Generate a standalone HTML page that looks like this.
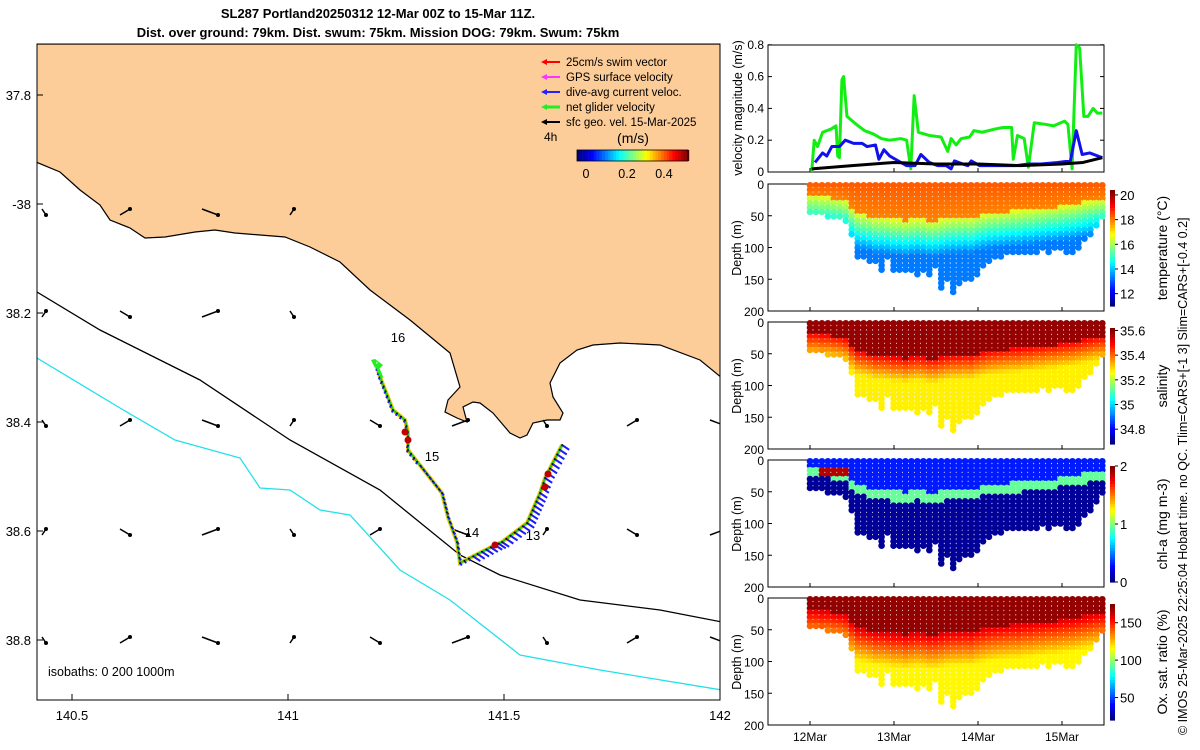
<!DOCTYPE html>
<html><head><meta charset="utf-8"><style>
body{margin:0;background:#fff;}
svg{display:block;font-family:"Liberation Sans",sans-serif;}
</style></head><body>
<svg id="fig" width="1200" height="750" viewBox="0 0 1200 750">
<text x="378" y="18" font-size="13" font-weight="bold" text-anchor="middle">SL287 Portland20250312 12-Mar 00Z to 15-Mar 11Z.</text>
<text x="378" y="37" font-size="13" font-weight="bold" text-anchor="middle">Dist. over ground: 79km. Dist. swum: 75km. Mission DOG: 79km. Swum: 75km</text>
<g id="map"></g>
<g id="vel"></g>
<g id="sections"></g>
<text transform="translate(1187,735) rotate(-90)" font-size="12.5">© IMOS 25-Mar-2025 22:25:04 Hobart time. no QC. Tlim=CARS+[-1 3] Slim=CARS+[-0.4 0.2]</text>
</svg>
<script>
// ---------- data ----------
const greenT=[0.02,0.05,0.09,0.15,0.25,0.31,0.33,0.35,0.38,0.40,0.44,0.55,0.65,0.75,0.85,0.95,1.08,1.15,1.20,1.24,1.29,1.42,1.56,1.64,1.68,1.74,1.80,1.90,1.95,2.05,2.20,2.30,2.40,2.42,2.47,2.55,2.60,2.67,2.80,2.90,3.03,3.07,3.12,3.17,3.21,3.26,3.31,3.37,3.42,3.48];
const greenV=[0.0,0.20,0.16,0.25,0.27,0.29,0.10,0.09,0.58,0.60,0.35,0.30,0.26,0.24,0.21,0.20,0.21,0.20,0.02,0.48,0.25,0.23,0.22,0.13,0.21,0.17,0.21,0.22,0.26,0.25,0.27,0.28,0.28,0.08,0.23,0.21,0.03,0.31,0.30,0.29,0.32,0.30,0.02,0.80,0.78,0.35,0.35,0.40,0.37,0.37];
const blueT=[0.06,0.15,0.20,0.26,0.35,0.42,0.52,0.62,0.68,0.78,0.82,0.88,0.95,1.05,1.15,1.25,1.32,1.42,1.52,1.62,1.68,1.72,1.82,1.88,1.92,2.02,2.18,2.30,2.45,2.60,2.75,2.95,3.10,3.17,3.24,3.33,3.43,3.48];
const blueV=[0.06,0.12,0.10,0.16,0.16,0.20,0.18,0.18,0.16,0.17,0.08,0.14,0.10,0.07,0.04,0.04,0.11,0.06,0.04,0.04,0.02,0.07,0.05,0.04,0.07,0.04,0.04,0.04,0.04,0.05,0.05,0.06,0.07,0.26,0.11,0.12,0.10,0.09];
const blackT=[0.02,0.5,1.0,1.5,2.0,2.5,3.0,3.25,3.48];
const blackV=[0.02,0.04,0.06,0.05,0.05,0.04,0.05,0.06,0.09];
const velTicks=[0,0.2,0.4,0.6,0.8];
const dayLabels=["12Mar","13Mar","14Mar","15Mar"];
const depthTicks=[0,50,100,150,200];
const profileMaxDepth=[45,48,50,52,55,56,60,85,115,120,122,125,135,120,140,135,140,140,145,140,145,130,165,150,172,160,155,150,145,130,125,120,115,112,110,110,108,110,110,105,108,100,105,110,112,100,90,80,65,55];
const profileMLD=[20,20,22,22,24,25,28,40,48,50,52,55,55,56,58,58,60,58,57,58,60,60,58,56,55,55,54,55,52,50,48,47,46,45,44,44,42,42,40,40,38,38,36,35,34,32,30,28,26,25];
const tempTicks=[12,14,16,18,20], salTicks=[34.8,35,35.2,35.4,35.6], chlTicks=[0,1,2], oxyTicks=[50,100,150];
const mapXTicks=[140.5,141,141.5,142], mapYTicks=[-37.8,-38,-38.2,-38.4,-38.6,-38.8];
const trackDays=["16","15","14","13"];

const NS="http://www.w3.org/2000/svg";
function mk(p,tag,attrs){const e=document.createElementNS(NS,tag);for(const k in attrs)e.setAttribute(k,attrs[k]);p.appendChild(e);return e;}
function txt(p,x,y,s,size,anchor){const e=mk(p,"text",{x:x,y:y,"font-size":size||12,"text-anchor":anchor||"middle"});e.textContent=s;return e;}
function jet(v){v=Math.max(0,Math.min(1,v));const r=Math.min(1,Math.max(0,1.5-Math.abs(4*v-3))),g=Math.min(1,Math.max(0,1.5-Math.abs(4*v-2))),b=Math.min(1,Math.max(0,1.5-Math.abs(4*v-1)));return `rgb(${Math.round(r*255)},${Math.round(g*255)},${Math.round(b*255)})`;}

// ---------- map ----------
const map=document.getElementById("map");
const mx=lon=>72+(lon-140.5)*432, my=lat=>204+(-38-lat)*545;
mk(map,"rect",{x:37,y:44,width:683,height:656,fill:"#fff"});
const clip=mk(map,"clipPath",{id:"mclip"});mk(clip,"rect",{x:37,y:44,width:683,height:656});
const mg=mk(map,"g",{"clip-path":"url(#mclip)"});
const land=mk(mg,"path",{d:"M36,44 L36,162 L60,172 L80,190 L100,205 L110,220 L130,228 L145,238 L165,237 L195,232 L215,230 L235,233 L260,235 L285,237 L310,247 L340,262 L370,290 L390,305 L410,320 L450,353 L460,387 L448,400 L445,412 L457,418 L467,422 L463,407 L473,402 L480,403 L493,413 L510,433 L520,438 L527,435 L533,423 L547,420 L560,420 L563,413 L553,397 L550,383 L560,363 L577,350 L593,345 L620,343 L660,345 L700,360 L722,378 L722,44 Z",fill:"#fccc99",stroke:"#000","stroke-width":1.2});


const iso200=mk(mg,"polyline",{points:"37,292 100,330 200,380 290,440 380,490 460,555 500,575 580,600 660,610 722,622",fill:"none",stroke:"#000","stroke-width":1.3});


const iso1000=mk(mg,"polyline",{points:"37,358 120,408 175,440 240,458 260,488 290,490 320,510 350,515 400,570 450,600 520,655 600,670 722,690",fill:"none",stroke:"#22e0e8","stroke-width":1.3});


// geostrophic arrows grid
const ax=[44,125,210,292,375,460,545,632,718], ay=[212,314,423,532,640];
ax.forEach((x,i)=>ay.forEach((y,j)=>{if(y<330&&x>300&&j<2)return;const a=mk(mg,"g",{});


const dx=(i%3)*3+2,dy=((i+j)%2?-3:3);mk(a,"line",{x1:x-dx,y1:y-dy,x2:x+dx,y2:y+dy,stroke:"#000","stroke-width":1.5});mk(a,"circle",{cx:x+dx,cy:y+dy,r:2,fill:"#000"});}));
// glider track
const track="562,445 545,478 540,493 527,523 502,542 495,545 460,563 457,542 448,517 442,493 408,450 408,432 405,420 393,410 380,377 376,364";
const tk=mk(mg,"polyline",{points:track,fill:"none",stroke:"#f5c400","stroke-width":4});


mk(mg,"polyline",{points:track,fill:"none",stroke:"#22cc22","stroke-width":2});
const pts=track.split(" ").map(s=>s.split(",").map(Number));
for(let k=0;k<pts.length-1;k++){const[a,b]=[pts[k],pts[k+1]];const n=Math.max(1,Math.round(Math.hypot(b[0]-a[0],b[1]-a[1])/5));for(let s=0;s<n;s++){const x=a[0]+(b[0]-a[0])*s/n,y=a[1]+(b[1]-a[1])*s/n;const ux=x>470?12:(x<420?-2:3),uy=x>470?8:4;mk(mg,"line",{x1:x,y1:y,x2:x+ux*0.6,y2:y+uy*0.6,stroke:"#1a1aff","stroke-width":2});mk(mg,"circle",{cx:x,cy:y,r:0.9,fill:"#000"});}}
[[405,432],[408,440],[545,487],[548,474],[495,545]].forEach(p=>mk(mg,"circle",{cx:p[0],cy:p[1],r:3.5,fill:"#c00000"}));
mk(mg,"polygon",{points:"371,360 375,368 377,361 379,369 383,365 375,359",fill:"#22ee22"});
mk(mg,"line",{x1:376,y1:364,x2:382,y2:378,stroke:"#22ee22","stroke-width":3});
[[398,342],[432,461],[472,537],[533,540]].forEach((p,i)=>{const t=txt(mg,p[0],p[1],trackDays[i],13);});
mk(map,"rect",{x:37,y:44,width:683,height:656,fill:"none",stroke:"#000","stroke-width":1});
mapXTicks.forEach(v=>{const x=mx(v);mk(map,"line",{x1:x,y1:700,x2:x,y2:694,stroke:"#000"});const t=txt(map,x,720,String(v),13);});
mapYTicks.forEach(v=>{const y=my(v);mk(map,"line",{x1:37,y1:y,x2:43,y2:y,stroke:"#000"});const t=txt(map,31,y+5,v===-38?"-38":String(-v),13,"end");});
txt(map,48,676,"isobaths: 0   200  1000m",12.5,"start");
// legend
const lg=mk(map,"g",{});
const leg=[["25cm/s swim vector","#ff0000"],["GPS surface velocity","#ff33ff"],["dive-avg current veloc.","#2222ff"],["net glider velocity","#22ee22"],["sfc geo. vel. 15-Mar-2025","#000"]];
leg.forEach((l,i)=>{const y=62+i*15;mk(lg,"line",{x1:545,y1:y,x2:560,y2:y,stroke:l[1],"stroke-width":i==3?3:2});mk(lg,"polygon",{points:`541,${y} 547,${y-3} 547,${y+3}`,fill:l[1]});txt(lg,566,y+4,l[0],11.5,"start");});
txt(lg,544,141,"4h",12,"start");txt(lg,633,143,"(m/s)",14);
for(let i=0;i<40;i++)mk(lg,"rect",{x:577+i*2.8,y:150,width:3,height:11,fill:jet(i/39)});
mk(lg,"rect",{x:577,y:150,width:111,height:11,fill:"none",stroke:"#000","stroke-width":0.8});
[[586,"0"],[627,"0.2"],[664,"0.4"]].forEach(a=>txt(lg,a[0],178,a[1],12.5));

// ---------- velocity panel ----------
const vel=document.getElementById("vel");
const tx=t=>810+t*84, vy=v=>172-v*159;
mk(vel,"rect",{x:768,y:45,width:336,height:127,fill:"#fff",stroke:"#000"});
velTicks.forEach(v=>{mk(vel,"line",{x1:768,y1:vy(v),x2:772,y2:vy(v),stroke:"#000"});mk(vel,"line",{x1:1100,y1:vy(v),x2:1104,y2:vy(v),stroke:"#000"});const t=txt(vel,764,vy(v)+4,String(v),12,"end");});
[0,1,2,3].forEach(d=>mk(vel,"line",{x1:tx(d),y1:172,x2:tx(d),y2:168,stroke:"#000"}));
const vt=txt(vel,0,0,"velocity magnitude (m/s)",12.5);vt.setAttribute("transform","translate(742,108) rotate(-90)");
function series(T,V,col,w,name){const l=mk(vel,"polyline",{points:T.map((t,i)=>tx(t)+","+vy(V[i])).join(" "),fill:"none",stroke:col,"stroke-width":w,"stroke-linejoin":"round"});}
series(greenT,greenV,"#11ee11",3,"net-velocity-line");
series(blueT,blueV,"#1111ee",3,"current-velocity-line");
series(blackT,blackV,"#000",3,"geo-velocity-line");

// ---------- sections ----------
const sec=document.getElementById("sections");
const panels=[
 {top:184,name:"temperature",lab:"temperature (°C)",lo:11,hi:20.4,ticks:tempTicks,f:(d,m,t)=>d<m?18.4-0.4*d/m:Math.max(13.3,16.6-(d-m)*0.06)},
 {top:322,name:"salinity",lab:"salinity",lo:34.68,hi:35.62,ticks:salTicks,f:(d,m,t)=>d<m?35.6:Math.max(35.28,35.5-(d-m)*0.006)},
 {top:460,name:"chlorophyll",lab:"chl-a (mg m-3)",lo:0,hi:2,ticks:chlTicks,f:(d,m,t)=>(t>0.1&&t<0.45&&d>14&&d<30)?1.9:(Math.abs(d-m)<8?0.95:(d<m?0.3:0.05))},
 {top:598,name:"oxygen",lab:"Ox. sat. ratio (%)",lo:20,hi:175,ticks:oxyTicks,f:(d,m,t)=>d<m?172:Math.max(118,160-(d-m)*0.8)}
];
const n=profileMaxDepth.length;
panels.forEach((P,pi)=>{
 const g=mk(sec,"g",{});
 const dy=d=>P.top+d*0.635;
 mk(g,"rect",{x:768,y:P.top,width:336,height:127,fill:"#fff",stroke:"#000"});
 for(let i=0;i<n;i++){const t=i*3.48/(n-1);for(let d=2;d<=profileMaxDepth[i];d+=7){mk(g,"circle",{cx:tx(t),cy:dy(d),r:3.3,fill:jet((P.f(d,profileMLD[i],t)-P.lo)/(P.hi-P.lo))});}}
 depthTicks.forEach(v=>{mk(g,"line",{x1:768,y1:dy(v),x2:772,y2:dy(v),stroke:"#000"});const t=txt(g,764,dy(v)+5,String(v),12,"end");});
 [0,1,2,3].forEach(d=>mk(g,"line",{x1:tx(d),y1:P.top+127,x2:tx(d),y2:P.top+123,stroke:"#000"}));
 const yt=txt(g,0,0,"Depth (m)",12.5);yt.setAttribute("transform",`translate(741,${P.top+64}) rotate(-90)`);
 const cb=mk(g,"g",{});
 const c0=P.top+6,c1=P.top+122;
 for(let k=0;k<40;k++)mk(cb,"rect",{x:1110,y:c1-(k+1)*(c1-c0)/40,width:5,height:(c1-c0)/40+0.6,fill:jet(k/39)});
 P.ticks.forEach(v=>{const y=c1-(v-P.lo)/(P.hi-P.lo)*(c1-c0);mk(cb,"line",{x1:1115,y1:y,x2:1118,y2:y,stroke:"#000"});txt(cb,1120,y+5,String(v),13,"start");});
 const cl=txt(cb,0,0,P.lab,14);cl.setAttribute("transform",`translate(1167,${P.top+64}) rotate(-90)`);
});
dayLabels.forEach((s,d)=>{const t=txt(sec,tx(d),741,s,12);});
</script>
</body></html>
